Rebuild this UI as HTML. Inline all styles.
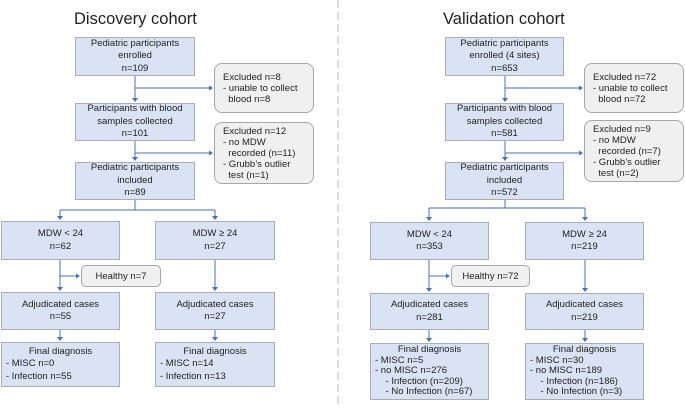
<!DOCTYPE html>
<html><head><meta charset="utf-8"><style>
body{margin:0;width:685px;height:408px;background:#fff;position:relative;overflow:hidden;font-family:"Liberation Sans",sans-serif;color:#222}
.b{position:absolute;box-sizing:border-box;background:#dae3f3;border:1.5px solid #a9adb5;font-size:9.5px;line-height:12.5px;text-align:center;display:flex;flex-direction:column;justify-content:center;white-space:nowrap}
.e{position:absolute;box-sizing:border-box;background:#f0f0f0;border:1px solid #a6a6a6;border-radius:8px;font-size:9.5px;line-height:11px;padding:0 0 0 8px;display:flex;flex-direction:column;justify-content:center;white-space:nowrap}
.h{position:absolute;box-sizing:border-box;background:#f0f0f0;border:1px solid #a6a6a6;border-radius:5px;font-size:9.5px;text-align:center;display:flex;align-items:center;justify-content:center}
.l{text-align:left;padding-left:4px;line-height:10.5px}
.t{position:absolute;font-size:16.5px;white-space:nowrap}
svg{position:absolute;left:0;top:0}
</style></head><body>
<svg width="685" height="408">
<line x1="338" y1="0" x2="338" y2="408" stroke="#ddd" stroke-width="2" stroke-dasharray="8,4"/>
<g stroke="#4472c4" stroke-width="1" fill="none">
<path d="M135 76V101M135 88H212M135 141V160M135 153H212M135 200V210M60 210H215M60 210V219M215 210V219M60 259V290M60 276H79M215 259V290M60 330V340M215 330V340"/>
<path d="M505 76V101M505 88H582M505 141V160M505 153H582M505 200V208M429 208H585M429 208V220M585 208V220M429 260V291M429 276H449M585 260V291M429 330V341M585 330V341"/>
</g>
<g fill="#4472c4">
<path d="M132 98L138 98L135 102ZM209 85.5L213 88L209 90.5ZM132 157L138 157L135 161ZM209 150.5L213 153L209 155.5ZM57 216L63 216L60 220ZM212 216L218 216L215 220ZM57 287L63 287L60 291ZM76 273.5L80 276L76 278.5ZM212 287L218 287L215 291ZM57 337L63 337L60 341ZM212 337L218 337L215 341Z"/>
<path d="M502 98L508 98L505 102ZM579 85.5L583 88L579 90.5ZM502 157L508 157L505 161ZM579 150.5L583 153L579 155.5ZM426 217L432 217L429 221ZM582 217L588 217L585 221ZM426 288L432 288L429 292ZM446 273.5L450 276L446 278.5ZM582 288L588 288L585 292ZM426 338L432 338L429 342ZM582 338L588 338L585 342Z"/>
</g>
</svg>
<div class="t" style="left:74px;top:10px">Discovery cohort</div>
<div class="t" style="left:443px;top:10px">Validation cohort</div>

<div class="b" style="left:75px;top:37px;width:120px;height:39px">Pediatric participants<br>enrolled<br>n=109</div>
<div class="e" style="left:214px;top:63px;width:100px;height:50px">Excluded n=8<br>- unable to collect<br>&nbsp;&nbsp;blood n=8</div>
<div class="b" style="left:75px;top:103px;width:120px;height:38px">Participants with blood<br>samples collected<br>n=101</div>
<div class="e" style="left:214px;top:122px;width:100px;height:62px">Excluded n=12<br>- no MDW<br>&nbsp;&nbsp;recorded (n=11)<br>- Grubb’s outlier<br>&nbsp;&nbsp;test (n=1)</div>
<div class="b" style="left:75px;top:162px;width:120px;height:38px">Pediatric participants<br>included<br>n=89</div>
<div class="b" style="left:1px;top:221px;width:119px;height:39px">MDW &lt; 24<br>n=62</div>
<div class="b" style="left:155px;top:221px;width:120px;height:39px">MDW ≥ 24<br>n=27</div>
<div class="h" style="left:81px;top:265px;width:80px;height:22px">Healthy n=7</div>
<div class="b" style="left:1px;top:292px;width:119px;height:38px">Adjudicated cases<br>n=55</div>
<div class="b" style="left:155px;top:292px;width:120px;height:38px">Adjudicated cases<br>n=27</div>
<div class="b" style="left:1px;top:342px;width:119px;height:45px"><div>Final diagnosis</div><div class="l" style="line-height:12.5px">- MISC n=0<br>- Infection n=55</div></div>
<div class="b" style="left:155px;top:342px;width:120px;height:45px"><div>Final diagnosis</div><div class="l" style="line-height:12.5px">- MISC n=14<br>- Infection n=13</div></div>

<div class="b" style="left:445px;top:37px;width:119px;height:39px">Pediatric participants<br>enrolled (4 sites)<br>n=653</div>
<div class="e" style="left:584px;top:63px;width:100px;height:50px">Excluded n=72<br>- unable to collect<br>&nbsp;&nbsp;blood n=72</div>
<div class="b" style="left:445px;top:103px;width:119px;height:38px">Participants with blood<br>samples collected<br>n=581</div>
<div class="e" style="left:584px;top:120px;width:100px;height:62px">Excluded n=9<br>- no MDW<br>&nbsp;&nbsp;recorded (n=7)<br>- Grubb’s outlier<br>&nbsp;&nbsp;test (n=2)</div>
<div class="b" style="left:445px;top:162px;width:119px;height:38px">Pediatric participants<br>included<br>n=572</div>
<div class="b" style="left:370px;top:222px;width:119px;height:38px">MDW &lt; 24<br>n=353</div>
<div class="b" style="left:525px;top:222px;width:119px;height:38px">MDW ≥ 24<br>n=219</div>
<div class="h" style="left:451px;top:265px;width:79px;height:22px">Healthy n=72</div>
<div class="b" style="left:370px;top:293px;width:119px;height:37px">Adjudicated cases<br>n=281</div>
<div class="b" style="left:525px;top:293px;width:119px;height:37px">Adjudicated cases<br>n=219</div>
<div class="b" style="left:370px;top:343px;width:119px;height:57px;line-height:10.5px"><div>Final diagnosis</div><div class="l">- MISC n=5<br>- no MISC n=276<br>&nbsp;&nbsp;&nbsp;&nbsp;- Infection (n=209)<br>&nbsp;&nbsp;&nbsp;&nbsp;- No Infection (n=67)</div></div>
<div class="b" style="left:525px;top:343px;width:119px;height:57px;line-height:10.5px"><div>Final diagnosis</div><div class="l">- MISC n=30<br>- no MISC n=189<br>&nbsp;&nbsp;&nbsp;&nbsp;- Infection (n=186)<br>&nbsp;&nbsp;&nbsp;&nbsp;- No Infection (n=3)</div></div>
</body></html>
